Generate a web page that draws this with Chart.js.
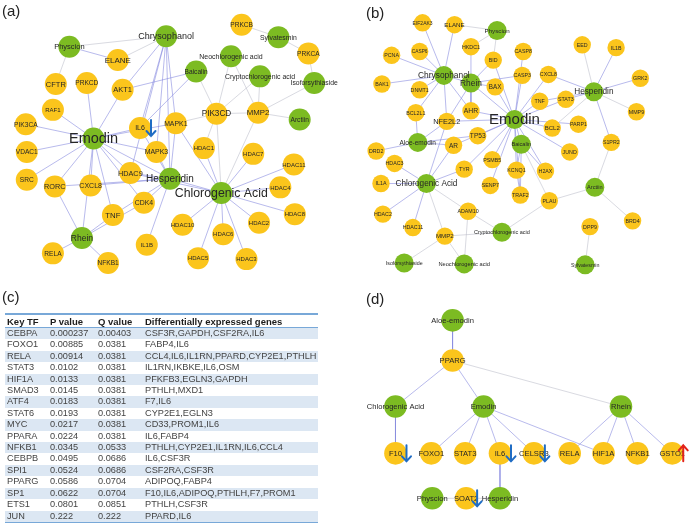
<!DOCTYPE html>
<html lang="en">
<head>
  <meta charset="UTF-8">
  <title>Networks and key TF table</title>
  <script src="https://cdn.jsdelivr.net/npm/chart.js@4.4.1/dist/chart.umd.min.js"></script>
  <style>
    html, body { margin: 0; padding: 0; background: #fff; }
    #wrap { position: relative; width: 700px; height: 523px; overflow: hidden; }
    #net { position: absolute; left: 0; top: 0; }
    .tag { position: absolute; font: 15px "Liberation Sans", Arial, sans-serif; color: #222; line-height: 15px; }
    #tf { position: absolute; left: 5px; top: 313px; width: 313px; table-layout: fixed; border-collapse: collapse;
          font-family: "Liberation Sans", Arial, sans-serif; font-size: 9.2px; color: #444;
          border-top: 2px solid #78a8d8; border-bottom: 1.5px solid #78a8d8; }
    #tf th { font-weight: bold; font-size: 9.5px; text-align: left; color: #1c1c1c; height: 12px; padding: 0 0 0 2px;
             border-bottom: 1px solid #78a8d8; white-space: nowrap; }
    #tf td { height: 11.4px; line-height: 11.4px; padding: 0 0 0 2px; white-space: nowrap; }
    #tf tbody tr:nth-child(odd) { background: #dce7f3; }
  </style>
</head>
<body>
<div id="wrap">
  <canvas id="net" width="700" height="523"></canvas>
  <div class="tag" style="left:2px;top:3px">(a)</div>
  <div class="tag" style="left:366px;top:5px">(b)</div>
  <div class="tag" style="left:2px;top:289px">(c)</div>
  <div class="tag" style="left:366px;top:291px">(d)</div>
  <table id="tf">
    <colgroup><col style="width:43px"><col style="width:48px"><col style="width:47px"><col></colgroup>
    <thead><tr><th>Key TF</th><th>P value</th><th>Q value</th><th>Differentially expressed genes</th></tr></thead>
    <tbody id="tfBody"></tbody>
  </table>
</div>
<script>
  // ---------- panel (a): compound-target network ----------
  const aNames = ['Physcion','ELANE','Chrysophanol','CFTR','PRKCD','AKT1','RAF1','PIK3CA','Emodin','IL6','MAPK1','MAPK3',
    'VDAC1','SRC','RORC','CXCL8','HDAC9','Hesperidin','CDK4','TNF','Rhein','IL1B','RELA','NFKB1',
    'PRKCB','Sylvatesmin','PRKCA','Neochlorogenic acid','Baicalin','Cryptochlorogenic acid','Isoforsythiaside',
    'PIK3CD','MMP2','Arctiin','HDAC1','HDAC7','HDAC11','HDAC4','HDAC8','Chlorogenic Acid','HDAC10','HDAC6','HDAC2','HDAC5','HDAC3'];
  const aX = [60,110,160,46,78,115,43,15,85,133,170,150, 16,16,45,82,123,164,137,105,73,140,43,100,
    238,276,307,227,191,257,313, 212,255,298,199,250,292,278,293,217,177,219,256,193,243];
  const aY = [37,51,26,76,75,82,103,118,133,122,117,147, 147,176,183,182,169,175,200,213,237,244,253,263,
    14,27,44,47,63,68,75, 107,106,113,143,149,160,184,212,190,223,233,221,258,259];
  const aCompounds = ['Physcion','Chrysophanol','Emodin','Hesperidin','Rhein','Sylvatesmin','Neochlorogenic acid','Baicalin',
    'Cryptochlorogenic acid','Isoforsythiaside','Arctiin','Chlorogenic Acid'];
  const aBlueEdges = [['Physcion','ELANE'],['Chrysophanol','AKT1'],['Chrysophanol','IL6'],['Chrysophanol','MAPK1'],
    ['Chrysophanol','MAPK3'],['Chrysophanol','Hesperidin'],['Chrysophanol','HDAC9'],['AKT1','Baicalin'],['IL6','Baicalin'],
    ['Emodin','PRKCD'],['Emodin','AKT1'],['Emodin','RAF1'],['Emodin','PIK3CA'],['Emodin','VDAC1'],['Emodin','SRC'],
    ['Emodin','RORC'],['Emodin','CXCL8'],['Emodin','HDAC9'],['Emodin','TNF'],['Emodin','IL6'],['Emodin','MAPK3'],
    ['Emodin','Rhein'],['Emodin','CDK4'],['Emodin','MAPK1'],['Emodin','Hesperidin'],
    ['Hesperidin','HDAC9'],['Hesperidin','CDK4'],['Hesperidin','IL1B'],['Hesperidin','CXCL8'],['Hesperidin','MAPK3'],
    ['Hesperidin','MAPK1'],['Hesperidin','IL6'],['Hesperidin','TNF'],['Hesperidin','RORC'],
    ['Rhein','RORC'],['Rhein','TNF'],['Rhein','RELA'],['Rhein','NFKB1'],['Rhein','CDK4'],
    ['Chlorogenic Acid','HDAC1'],['Chlorogenic Acid','HDAC2'],['Chlorogenic Acid','HDAC3'],['Chlorogenic Acid','HDAC4'],
    ['Chlorogenic Acid','HDAC5'],['Chlorogenic Acid','HDAC6'],['Chlorogenic Acid','HDAC7'],['Chlorogenic Acid','HDAC8'],
    ['Chlorogenic Acid','HDAC10'],['Chlorogenic Acid','HDAC11'],['Chlorogenic Acid','MAPK1'],['Chlorogenic Acid','Hesperidin'],
    ['Chlorogenic Acid','HDAC9']];
  const aGrayEdges = [['Physcion','CFTR'],['Physcion','Chrysophanol'],['ELANE','Chrysophanol'],['PRKCB','Sylvatesmin'],
    ['Sylvatesmin','PRKCA'],['PRKCA','Isoforsythiaside'],['PIK3CD','Baicalin'],['PIK3CD','Neochlorogenic acid'],
    ['PIK3CD','Cryptochlorogenic acid'],['PIK3CD','MMP2'],['PIK3CD','Chlorogenic Acid'],['PIK3CD','MAPK1'],
    ['MMP2','Neochlorogenic acid'],['MMP2','Cryptochlorogenic acid'],['MMP2','Arctiin'],['MMP2','Isoforsythiaside'],
    ['MMP2','Chlorogenic Acid'],['PIK3CD','HDAC1']];
  const aDown = ['IL6'];
  const aUp = [];

  // ---------- panel (b): compound-target network ----------
  const bNames = ['EIF2AK3','ELANE','Physcion','PCNA','CASP6','HKDC1','BID','CASP8','BAK1','Chrysophanol','Rhein','BAX',
    'DNMT1','CASP3','BCL2L1','AHR','NFE2L2','Emodin','Aloe-emodin','AR','TP53','DRD2','Baicalin',
    'EED','IL1B','GRK2','CXCL8','Hesperidin','TNF','STAT3','MMP9','BCL2','PARP1','S1PR2','JUND',
    'HDAC3','TYR','PSMB5','KCNQ1','IL1A','Chlorogenic Acid','SENP7','TRAF2','H2AX','HDAC2','ADAM10','HDAC11','MMP2',
    'Cryptochlorogenic acid','Arctiin','PLAU','BRD4','DPP9','Isoforsythiaside','Neochlorogenic acid','Sylvatesmin'];
  const bX = [425,458,502,393,422,475,498,529,383,447,475,500, 422,528,418,475,450,520,420,457,482,377,527,
    590,625,650,555,602,546,573,646,559,586,620,577, 396,468,497,522,382,429,495,526,552,384,472,415,448,
    507,603,556,642,598,406,468,593];
  const bY = [12,14,20,46,42,37,51,42,76,67,75,79, 82,67,106,104,115,113,137,140,130,146,139,
    35,38,70,66,84,94,92,105,122,118,137,147, 159,165,155,166,180,180,182,192,167,212,209,226,235,
    231,184,198,219,225,263,264,265];
  const bCompounds = ['Physcion','Chrysophanol','Rhein','Emodin','Aloe-emodin','Baicalin','Hesperidin','Chlorogenic Acid',
    'Cryptochlorogenic acid','Arctiin','Isoforsythiaside','Neochlorogenic acid','Sylvatesmin'];
  const bBlueEdges = [['Emodin','BID'],['Emodin','CASP8'],['Emodin','CASP3'],['Emodin','CXCL8'],['Emodin','TNF'],
    ['Emodin','STAT3'],['Emodin','BCL2'],['Emodin','PARP1'],['Emodin','JUND'],['Emodin','H2AX'],['Emodin','KCNQ1'],
    ['Emodin','TRAF2'],['Emodin','PSMB5'],['Emodin','SENP7'],['Emodin','TP53'],['Emodin','AHR'],['Emodin','NFE2L2'],
    ['Emodin','AR'],['Emodin','TYR'],['Emodin','BAX'],['Emodin','Baicalin'],['Emodin','Rhein'],
    ['Hesperidin','IL1B'],['Hesperidin','GRK2'],['Hesperidin','S1PR2'],['Hesperidin','CXCL8'],['Hesperidin','STAT3'],
    ['Hesperidin','TNF'],
    ['Chrysophanol','EIF2AK3'],['Chrysophanol','ELANE'],['Chrysophanol','PCNA'],['Chrysophanol','CASP6'],
    ['Chrysophanol','BAK1'],['Chrysophanol','DNMT1'],['Chrysophanol','BCL2L1'],['Chrysophanol','NFE2L2'],
    ['Chrysophanol','Rhein'],['Chrysophanol','AHR'],
    ['Rhein','HKDC1'],['Rhein','BAX'],['Rhein','AHR'],['Rhein','NFE2L2'],['Rhein','BID'],['Rhein','CASP3'],
    ['Aloe-emodin','DRD2'],['Aloe-emodin','NFE2L2'],['Aloe-emodin','AR'],['Aloe-emodin','BCL2L1'],['Aloe-emodin','TP53'],
    ['Chlorogenic Acid','HDAC3'],['Chlorogenic Acid','IL1A'],['Chlorogenic Acid','HDAC2'],['Chlorogenic Acid','HDAC11'],
    ['Chlorogenic Acid','AR'],['Chlorogenic Acid','TYR'],['Chlorogenic Acid','NFE2L2'],
    ['Baicalin','H2AX'],['Baicalin','KCNQ1'],['Baicalin','TRAF2'],['KCNQ1','TRAF2']];
  const bGrayEdges = [['ELANE','Physcion'],['Physcion','BID'],['Physcion','HKDC1'],['Chlorogenic Acid','ADAM10'],
    ['Chlorogenic Acid','MMP2'],['ADAM10','Cryptochlorogenic acid'],['ADAM10','Neochlorogenic acid'],
    ['MMP2','Cryptochlorogenic acid'],['MMP2','Isoforsythiaside'],['MMP2','Neochlorogenic acid'],
    ['Cryptochlorogenic acid','PLAU'],['PLAU','Arctiin'],['PLAU','Baicalin'],['Arctiin','S1PR2'],['Arctiin','BRD4'],
    ['DPP9','Sylvatesmin'],['Hesperidin','EED'],['Hesperidin','MMP9'],['Hesperidin','BCL2']];
  const bDown = [];
  const bUp = [];

  // ---------- panel (d): TF regulation network ----------
  const dNames = ['Aloe-emodin','PPARG','Chlorogenic Acid','Emodin','Rhein','F10','FOXO1','STAT3','IL6','CELSR3','RELA',
    'HIF1A','NFKB1','GSTO1','Physcion','SOAT2','Hesperidin'];
  const dX = [456,456,397,488,630,397,434,469,505,540,577,612,647,683,435,470,505];
  const dY = [323,365,413,413,413,462,462,462,462,462,462,462,462,462,509,509,509];
  const dCompounds = ['Aloe-emodin','Chlorogenic Acid','Emodin','Rhein','Physcion','Hesperidin'];
  const dBlueEdges = [['Aloe-emodin','PPARG'],['PPARG','Chlorogenic Acid'],['PPARG','Emodin'],['Chlorogenic Acid','F10'],
    ['Emodin','FOXO1'],['Emodin','STAT3'],['Emodin','IL6'],['Emodin','CELSR3'],['Emodin','HIF1A'],['Rhein','RELA'],
    ['Rhein','HIF1A'],['Rhein','NFKB1'],['Rhein','GSTO1'],['IL6','Hesperidin']];
  const dGrayEdges = [['PPARG','Rhein'],['Physcion','SOAT2'],['SOAT2','Hesperidin']];
  const dDown = ['F10','IL6','CELSR3','SOAT2'];
  const dUp = ['GSTO1'];

  // ---------- panel (c): key TF table ----------
  const tfNames = ['CEBPA','FOXO1','RELA','STAT3','HIF1A','SMAD3','ATF4','STAT6','MYC','PPARA','NFKB1','CEBPB','SPI1',
    'PPARG','SP1','ETS1','JUN'];
  const tfP = [0.000237,0.00885,0.00914,0.0102,0.0133,0.0145,0.0183,0.0193,0.0217,0.0224,0.0345,0.0495,0.0524,
    0.0586,0.0622,0.0801,0.222];
  const tfQ = [0.00403,0.0381,0.0381,0.0381,0.0381,0.0381,0.0381,0.0381,0.0381,0.0381,0.0533,0.0686,0.0686,
    0.0704,0.0704,0.0851,0.222];
  const tfGenes = ['CSF3R,GAPDH,CSF2RA,IL6','FABP4,IL6','CCL4,IL6,IL1RN,PPARD,CYP2E1,PTHLH','IL1RN,IKBKE,IL6,OSM',
    'PFKFB3,EGLN3,GAPDH','PTHLH,MXD1','F7,IL6','CYP2E1,EGLN3','CD33,PROM1,IL6','IL6,FABP4',
    'PTHLH,CYP2E1,IL1RN,IL6,CCL4','IL6,CSF3R','CSF2RA,CSF3R','ADIPOQ,FABP4','F10,IL6,ADIPOQ,PTHLH,F7,PROM1',
    'PTHLH,CSF3R','PPARD,IL6'];

  // ---------- styles ----------
  const GREEN = '#7cbb22', YELLOW = '#fbc51c';
  const BLUE_EDGE = 'rgba(125,130,220,0.55)', GRAY_EDGE = 'rgba(180,181,196,0.5)';
  const FONT = '"Liberation Sans", Arial, sans-serif';

  const panels = [
    { names: aNames, x: aX, y: aY, green: aCompounds, blue: aBlueEdges, gray: aGrayEdges, down: aDown, up: aUp,
      rYellow: 11, rGreen: 11, baseFont: 6.6,
      fonts: { 'Emodin': 14.5, 'Chlorogenic Acid': 12.3, 'Hesperidin': 10, 'Chrysophanol': 9, 'PIK3CD': 8.2, 'MMP2': 7.8,
               'Rhein': 8.5, 'ELANE': 8, 'TNF': 7.8, 'AKT1': 7.5, 'Physcion': 7.5, 'CFTR': 7.5, 'RORC': 7.3, 'HDAC9': 7.3,
               'IL6': 7, 'MAPK3': 6.9, 'MAPK1': 6.9, 'CXCL8': 7, 'CDK4': 6.9, 'Neochlorogenic acid': 7,
               'Cryptochlorogenic acid': 6.9, 'Isoforsythiaside': 6.8, 'Sylvatesmin': 6.8,
               'HDAC1': 6, 'HDAC2': 6, 'HDAC3': 6, 'HDAC4': 6, 'HDAC5': 6, 'HDAC6': 6, 'HDAC7': 6, 'HDAC8': 6,
               'HDAC10': 6, 'HDAC11': 6, 'RAF1': 6, 'IL1B': 6 } },
    { names: bNames, x: bX, y: bY, green: bCompounds, blue: bBlueEdges, gray: bGrayEdges, down: bDown, up: bUp,
      rYellow: 8.7, rGreen: 9.5, baseFont: 5.3,
      fonts: { 'Emodin': 15, 'Chrysophanol': 8.4, 'Rhein': 8.4, 'Hesperidin': 8.2, 'Chlorogenic Acid': 8.2,
               'NFE2L2': 7.4, 'AHR': 6.8, 'TP53': 6.6, 'AR': 6.5, 'Aloe-emodin': 6.5, 'BAX': 6.3, 'ELANE': 6.2,
               'Physcion': 6.2, 'MMP2': 6.2, 'BCL2': 6, 'Baicalin': 5.6, 'Neochlorogenic acid': 5.7,
               'Cryptochlorogenic acid': 5.5, 'Arctiin': 5.6, 'CASP6': 4.8, 'EIF2AK3': 5 } },
    { names: dNames, x: dX, y: dY, green: dCompounds, blue: dBlueEdges, gray: dGrayEdges, down: dDown, up: dUp,
      rYellow: 11.3, rGreen: 11.3, baseFont: 7.6, fonts: {} }
  ];

  // table rows
  const body = document.getElementById('tfBody');
  tfNames.forEach((n, i) => {
    const tr = document.createElement('tr');
    [n, String(tfP[i]), String(tfQ[i]), tfGenes[i]].forEach(v => {
      const td = document.createElement('td'); td.textContent = v; tr.appendChild(td);
    });
    body.appendChild(tr);
  });

  // datasets: edges behind, nodes on top
  const datasets = [];
  panels.forEach(p => {
    const pos = n => { const i = p.names.indexOf(n); return { x: p.x[i], y: p.y[i] }; };
    const yellowPts = [], greenPts = [];
    p.names.forEach((n, i) => (p.green.includes(n) ? greenPts : yellowPts).push({ x: p.x[i], y: p.y[i] }));
    datasets.push({ data: yellowPts, pointRadius: p.rYellow, backgroundColor: YELLOW, borderWidth: 0, order: 0, clip: false });
    datasets.push({ data: greenPts, pointRadius: p.rGreen, backgroundColor: GREEN, borderWidth: 0, order: 0, clip: false });
    [[p.gray, GRAY_EDGE], [p.blue, BLUE_EDGE]].forEach(([list, col]) => {
      list.forEach(([s, t]) => {
        datasets.push({ data: [pos(s), pos(t)], showLine: true, pointRadius: 0, borderColor: col, borderWidth: 1,
          order: 2, clip: false });
      });
    });
  });

  const labelPlugin = {
    id: 'nodeLabels',
    afterDatasetsDraw(chart) {
      const ctx = chart.ctx, xs = chart.scales.x, ys = chart.scales.y;
      ctx.save();
      ctx.textAlign = 'center';
      ctx.textBaseline = 'middle';
      panels.forEach(p => {
        p.names.forEach((n, i) => {
          const size = p.fonts[n] || p.baseFont;
          ctx.font = size + 'px ' + FONT;
          ctx.fillStyle = '#262626';
          ctx.fillText(n, xs.getPixelForValue(p.x[i]), ys.getPixelForValue(p.y[i]) + 0.5);
        });
        // regulation arrows
        const drawArrow = (n, dir, col) => {
          const i = p.names.indexOf(n);
          const ax = xs.getPixelForValue(p.x[i]) + 11, ay = ys.getPixelForValue(p.y[i]);
          const tip = ay + 8 * dir;
          ctx.strokeStyle = col; ctx.lineWidth = 2; ctx.lineCap = 'round';
          ctx.beginPath();
          ctx.moveTo(ax, ay - 8 * dir); ctx.lineTo(ax, tip);
          ctx.moveTo(ax - 4.5, tip - 5 * dir); ctx.lineTo(ax, tip); ctx.lineTo(ax + 4.5, tip - 5 * dir);
          ctx.stroke();
        };
        p.down.forEach(n => drawArrow(n, 1, '#1f6cc4'));
        p.up.forEach(n => drawArrow(n, -1, '#e2231a'));
      });
      ctx.restore();
    }
  };

  new Chart(document.getElementById('net'), {
    type: 'scatter',
    data: { datasets },
    options: {
      responsive: false,
      animation: false,
      events: [],
      layout: { padding: 0 },
      plugins: { legend: { display: false }, tooltip: { enabled: false } },
      scales: {
        x: { type: 'linear', min: 0, max: 700, display: false },
        y: { type: 'linear', min: 0, max: 523, reverse: true, display: false }
      }
    },
    plugins: [labelPlugin]
  });
</script>
</body>
</html>
